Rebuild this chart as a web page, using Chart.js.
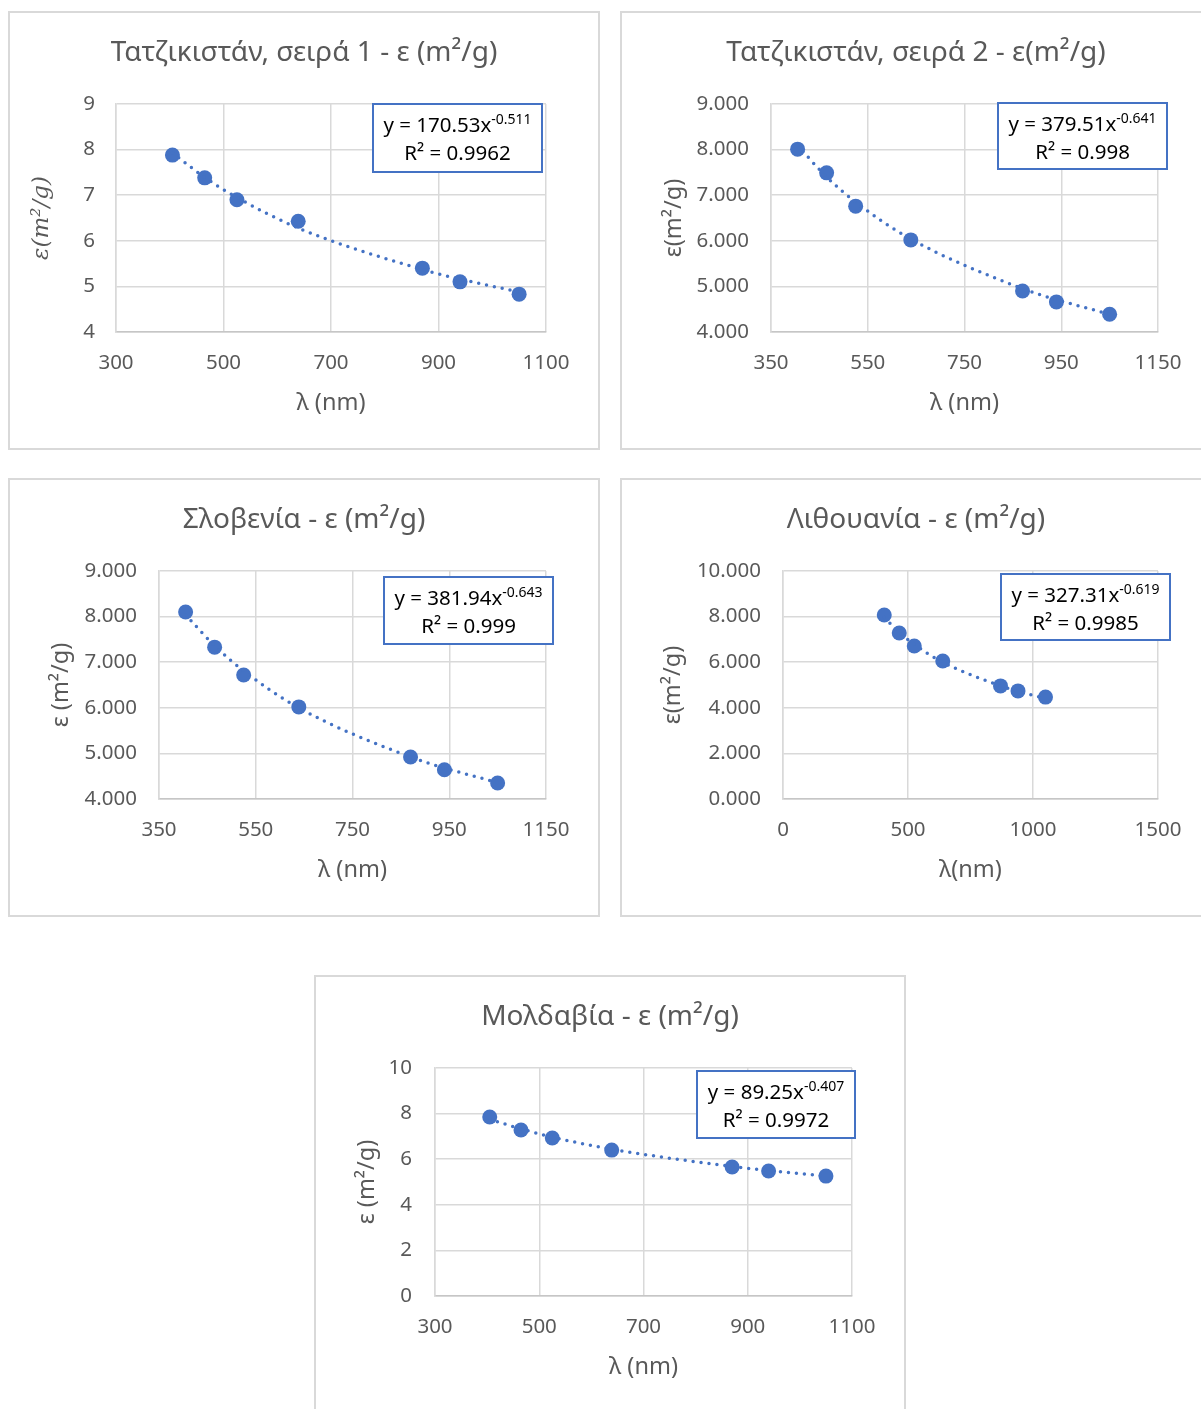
<!DOCTYPE html>
<html>
<head>
<meta charset="utf-8">
<script src="https://cdn.jsdelivr.net/npm/chart.js@4.4.0/dist/chart.umd.min.js"></script>
<style>
  html, body { margin: 0; padding: 0; background: #fff; overflow: hidden; width: 1201px; height: 1409px; }
  .box { position: absolute; width: 592px; height: 439px; border: 2px solid #d9d9d9; box-sizing: border-box; }
  .box canvas { position: absolute; left: -2px; top: -1px; }
</style>
</head>
<body>
<div class="box" style="left:8px;top:11px"><canvas id="c1" width="592" height="439"></canvas></div>
<div class="box" style="left:620px;top:11px"><canvas id="c2" width="592" height="439"></canvas></div>
<div class="box" style="left:8px;top:478px"><canvas id="c3" width="592" height="439"></canvas></div>
<div class="box" style="left:620px;top:478px"><canvas id="c4" width="592" height="439"></canvas></div>
<div class="box" style="left:314px;top:975px"><canvas id="c5" width="592" height="439"></canvas></div>
<script>
// wavelengths (nm), same for every sample
const wavelengths = [405, 465, 525, 639, 870, 940, 1050];

// measured ε (m²/g)
const tajik1Eps = [7.88, 7.38, 6.90, 6.43, 5.40, 5.10, 4.83];
const tajik2Eps = [8.01, 7.49, 6.76, 6.02, 4.90, 4.66, 4.39];
const sloveniaEps = [8.10, 7.33, 6.72, 6.02, 4.92, 4.64, 4.35];
const lithuaniaEps = [8.07, 7.28, 6.71, 6.05, 4.96, 4.74, 4.47];
const moldovaEps = [7.85, 7.28, 6.93, 6.40, 5.66, 5.48, 5.26];

// power trendline, read at the same wavelengths
const tajik1Trend = [7.93, 7.39, 6.95, 6.28, 5.37, 5.16, 4.88];
const tajik2Trend = [8.09, 7.40, 6.85, 6.04, 4.95, 4.71, 4.39];
const sloveniaTrend = [8.04, 7.36, 6.81, 6.00, 4.92, 4.68, 4.36];
const lithuaniaTrend = [7.96, 7.31, 6.78, 6.00, 4.96, 4.73, 4.41];
const moldovaTrend = [7.75, 7.33, 6.97, 6.44, 5.68, 5.50, 5.26];

// trendline labels
const eqCoef = ['170.53', '379.51', '381.94', '327.31', '89.25'];
const eqExp = ['-0.511', '-0.641', '-0.643', '-0.619', '-0.407'];
const eqR2 = ['0.9962', '0.998', '0.999', '0.9985', '0.9972'];

const titles = [
    'Τατζικιστάν, σειρά 1 - ε (m²/g)',
    'Τατζικιστάν, σειρά 2 - ε(m²/g)',
    'Σλοβενία - ε (m²/g)',
    'Λιθουανία - ε (m²/g)',
    'Μολδαβία - ε (m²/g)'
];
const yTitles = ['ε(m²/g)', 'ε(m²/g)', 'ε (m²/g)', 'ε(m²/g)', 'ε (m²/g)'];
const xTitles = ['λ (nm)', 'λ (nm)', 'λ (nm)', 'λ(nm)', 'λ (nm)'];

// axis ranges: [min, max, step]
const xRanges = [[300, 1100, 200], [350, 1150, 200], [350, 1150, 200], [0, 1500, 500], [300, 1100, 200]];
const yRanges = [[4, 9, 1], [4, 9, 1], [4, 9, 1], [0, 10, 2], [0, 10, 2]];
const yDecimals = [0, 3, 3, 3, 0];

const BLUE = '#4472C4';
const GREY = '#595959';
const FONT = "'Noto Sans', 'Open Sans', sans-serif";

const eqPlugin = {
    id: 'eqBox',
    afterDatasetsDraw(chart, args, o) {
        const { ctx, chartArea } = chart;
        const x = chartArea.right + o.dx - o.w;
        const y = chartArea.top + o.dy;
        ctx.save();
        ctx.fillStyle = '#fff';
        ctx.fillRect(x, y, o.w, o.h);
        ctx.strokeStyle = BLUE;
        ctx.lineWidth = 2;
        ctx.strokeRect(x, y, o.w, o.h);

        const main = 'y = ' + o.coef + 'x';
        ctx.font = '20.5px ' + FONT;
        const mw = ctx.measureText(main).width;
        ctx.font = '14px ' + FONT;
        const sw = ctx.measureText(o.exp).width;
        const cx = x + o.w / 2;
        const sx = cx - (mw + sw) / 2;
        ctx.fillStyle = '#000';
        ctx.textAlign = 'left';
        ctx.textBaseline = 'alphabetic';
        ctx.font = '20.5px ' + FONT;
        ctx.fillText(main, sx, y + 28);
        ctx.font = '14px ' + FONT;
        ctx.fillText(o.exp, sx + mw, y + 20);
        ctx.font = '20.5px ' + FONT;
        ctx.textAlign = 'center';
        ctx.fillText('R² = ' + o.r2, cx, y + 56);
        ctx.restore();
    }
};

function drawPanel(id, idx, eps, trend, layout) {
    const [xMin, xMax, xStep] = xRanges[idx];
    const [yMin, yMax, yStep] = yRanges[idx];
    const axisSize = 23.5;
    const axisLh = axisSize * 1.2;
    const padSide = layout.yTitleX - axisLh / 2;
    const padBottom = 439 - (391 + axisLh / 2);
    const titleSize = 28;
    const titleTop = 41 - titleSize * 0.6;

    new Chart(document.getElementById(id), {
        type: 'scatter',
        data: {
            datasets: [
                {
                    data: wavelengths.map((w, i) => ({ x: w, y: trend[i] })),
                    showLine: true,
                    pointRadius: 0,
                    borderColor: BLUE,
                    borderWidth: 3.5,
                    borderDash: [0, 8],
                    borderCapStyle: 'round',
                    cubicInterpolationMode: 'monotone',
                    fill: false
                },
                {
                    data: wavelengths.map((w, i) => ({ x: w, y: eps[i] })),
                    pointRadius: 7.5,
                    pointBackgroundColor: BLUE,
                    pointBorderColor: BLUE,
                    pointBorderWidth: 0
                }
            ]
        },
        options: {
            responsive: false,
            animation: false,
            events: [],
            // same padding both sides so the title sits centred in the frame
            layout: { padding: { left: padSide, right: padSide, top: 0, bottom: padBottom } },
            plugins: {
                legend: { display: false },
                tooltip: { enabled: false },
                title: {
                    display: true,
                    text: titles[idx],
                    color: GREY,
                    font: { family: FONT, size: titleSize, weight: 'normal' },
                    padding: { top: titleTop, bottom: 92 - titleTop - titleSize * 1.2 }
                },
                eqBox: { coef: eqCoef[idx], exp: eqExp[idx], r2: eqR2[idx], dx: layout.eq[0], dy: layout.eq[1], w: layout.eq[2], h: layout.eq[3] }
            },
            scales: {
                x: {
                    type: 'linear',
                    min: xMin, max: xMax,
                    grid: { color: '#d9d9d9', lineWidth: 1.5, drawTicks: false },
                    border: { color: '#c6c6c6', width: 1.5 },
                    ticks: { stepSize: xStep, color: GREY, font: { family: FONT, size: 20.5 }, padding: 19, callback: v => String(v) },
                    title: { display: true, text: xTitles[idx], color: GREY, font: { family: FONT, size: axisSize }, padding: 0 },
                    afterFit: s => { s.height = 439 - padBottom - 320; }
                },
                y: {
                    min: yMin, max: yMax,
                    grid: { color: '#d9d9d9', lineWidth: 1.5, drawTicks: false },
                    border: { color: '#d9d9d9', width: 1.5 },
                    ticks: { stepSize: yStep, color: GREY, font: { family: FONT, size: 20.5 }, padding: layout.tickPad,
                             callback: v => v.toFixed(yDecimals[idx]) },
                    title: { display: true, text: yTitles[idx], color: GREY, padding: 0,
                             font: layout.italic ? { family: "'DejaVu Serif', serif", size: 23, style: 'italic' } : { family: FONT, size: axisSize } },
                    afterFit: s => { s.width = layout.plotLeft - padSide; }
                },
                // empty right-hand spacer keeping the plot's right edge in place
                spacer: {
                    type: 'linear',
                    position: 'right',
                    grid: { display: false },
                    border: { display: false },
                    ticks: { display: false },
                    afterFit: s => { s.width = 54 - padSide; }
                }
            }
        },
        plugins: [eqPlugin]
    });
}

drawPanel('c1', 0, tajik1Eps, tajik1Trend, { plotLeft: 108, yTitleX: 34, tickPad: 21, italic: true, eq: [-4, 0, 169, 68] });
drawPanel('c2', 1, tajik2Eps, tajik2Trend, { plotLeft: 151, yTitleX: 54, tickPad: 22, eq: [9, -1, 169, 66] });
drawPanel('c3', 2, sloveniaEps, sloveniaTrend, { plotLeft: 151, yTitleX: 53, tickPad: 22, eq: [7, 6, 169, 67] });
drawPanel('c4', 3, lithuaniaEps, lithuaniaTrend, { plotLeft: 163, yTitleX: 53, tickPad: 22, eq: [12, 3, 169, 66] });
drawPanel('c5', 4, moldovaEps, moldovaTrend, { plotLeft: 121, yTitleX: 53, tickPad: 23, eq: [3, 3, 158, 67] });
</script>
</body>
</html>
